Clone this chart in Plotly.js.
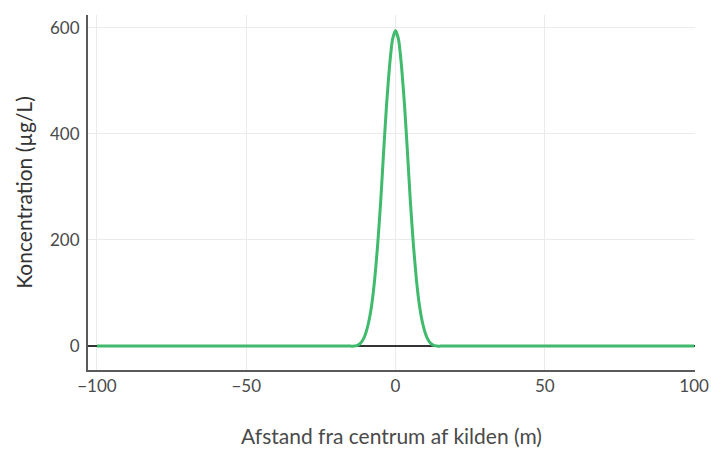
<!DOCTYPE html>
<html>
<head>
<meta charset="utf-8">
<script src="https://cdn.plot.ly/plotly-3.0.1.min.js"></script>
<style>html,body{margin:0;padding:0;background:#fff;}#chart{width:711px;height:449px;}</style>
</head>
<body>
<div id="chart"></div>
<script>
// Distance from source centre (m)
const distance = [-100, -60, -30, -20, -16, -15, -14, -13, -12, -11, -10, -9, -8, -7, -6, -5, -4, -3, -2, -1, 0,
                  1, 2, 3, 4, 5, 6, 7, 8, 9, 10, 11, 12, 13, 14, 15, 16, 20, 30, 60, 100];
// Concentration (µg/L)
const concentration = [0, 0, 0, 0, 0, 0, 0, 1, 4, 11, 24, 45, 77, 125, 190, 270, 365, 455, 528, 578, 595,
                       578, 528, 455, 365, 270, 190, 125, 77, 45, 24, 11, 4, 1, 0, 0, 0, 0, 0, 0, 0];
const xTickVals = [-100, -50, 0, 50, 100];
const yTickVals = [0, 200, 400, 600];

const trace = {
  x: distance,
  y: concentration,
  type: 'scatter',
  mode: 'lines',
  line: {color: '#40ba6d', width: 3, shape: 'spline', smoothing: 0.5},
  hoverinfo: 'x+y'
};

const layout = {
  width: 711, height: 449,
  margin: {l: 88, r: 16, t: 15, b: 79, pad: 0},
  paper_bgcolor: '#fff', plot_bgcolor: '#fff',
  font: {family: 'Lato, sans-serif', size: 17, color: '#444'},
  showlegend: false,
  xaxis: {
    range: [-103, 100.3],
    tickvals: xTickVals,
    showgrid: true, gridcolor: '#ebebeb', gridwidth: 1,
    zeroline: false,
    showline: true, linecolor: '#5a5a5a', linewidth: 2,
    ticks: '',
    tickfont: {size: 17, color: '#4a4a4a'},
    title: {text: 'Afstand fra centrum af kilden (m)', font: {size: 21, color: '#4a4a4a'}, standoff: 34}
  },
  yaxis: {
    range: [-45, 624],
    tickvals: yTickVals,
    showgrid: true, gridcolor: '#ebebeb', gridwidth: 1,
    zeroline: true, zerolinecolor: '#333', zerolinewidth: 1.5,
    showline: true, linecolor: '#5a5a5a', linewidth: 2,
    ticks: '', ticklabelstandoff: 3,
    tickfont: {size: 17, color: '#4a4a4a'},
    title: {text: 'Koncentration (µg/L)', font: {size: 21, color: '#333'}, standoff: 12}
  }
};

Plotly.newPlot('chart', [trace], layout, {displayModeBar: false, staticPlot: true});
</script>
</body>
</html>
